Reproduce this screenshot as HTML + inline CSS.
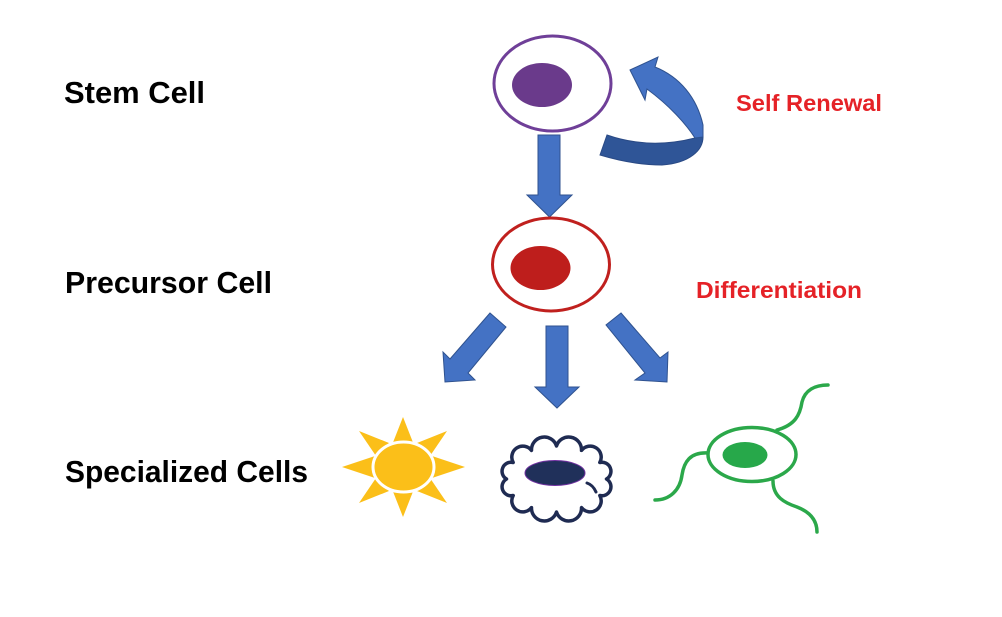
<!DOCTYPE html>
<html>
<head>
<meta charset="utf-8">
<style>
  html, body { margin:0; padding:0; background:#ffffff; }
  svg { display:block; }
  .lbl { font-family:"Liberation Sans", Arial, sans-serif; font-weight:bold; }
</style>
</head>
<body>
<svg width="1002" height="617" viewBox="0 0 1002 617" xmlns="http://www.w3.org/2000/svg">
  <rect x="0" y="0" width="1002" height="617" fill="#ffffff"/>

  <!-- Left labels -->
  <text class="lbl" x="64" y="103" font-size="31" fill="#000" textLength="141" lengthAdjust="spacingAndGlyphs">Stem Cell</text>
  <text class="lbl" x="65" y="293" font-size="31" fill="#000" textLength="207" lengthAdjust="spacingAndGlyphs">Precursor Cell</text>
  <text class="lbl" x="65" y="482" font-size="31" fill="#000" textLength="243" lengthAdjust="spacingAndGlyphs">Specialized Cells</text>

  <!-- Red labels -->
  <text class="lbl" x="736" y="111" font-size="23" fill="#E52227" textLength="146" lengthAdjust="spacingAndGlyphs">Self Renewal</text>
  <text class="lbl" x="696" y="298" font-size="23" fill="#E52227" textLength="166" lengthAdjust="spacingAndGlyphs">Differentiation</text>

  <!-- Stem cell -->
  <ellipse cx="552.5" cy="83.5" rx="58.5" ry="47.5" fill="#fff" stroke="#6F3F98" stroke-width="3"/>
  <ellipse cx="542" cy="85" rx="30" ry="22" fill="#6A3A8B"/>

  <!-- Self renewal curved arrow -->
  <path d="M607,135 C630,143 660,147 695,138 L703,137 C703,150 690,163 662,165 C640,165 620,161 600,155 Z" fill="#2F5597" stroke="#2A4A85" stroke-width="1"/>
  <path d="M630,70 L658,57 L655,67 C680,77 697,98 703,125 L703,137 L695,138 C686,124 670,106 647,89 L645,100 Z" fill="#4472C4" stroke="#2F528F" stroke-width="1"/>

  <!-- Down arrow stem -> precursor -->
  <path d="M538,135 L560,135 L560,195 L572,195 L549.5,217 L527,195 L538,195 Z" fill="#4472C4" stroke="#2F528F" stroke-width="1"/>

  <!-- Precursor cell -->
  <ellipse cx="551" cy="264.5" rx="58.5" ry="46.5" fill="#fff" stroke="#C0201E" stroke-width="3"/>
  <ellipse cx="540.5" cy="268" rx="30" ry="22" fill="#BE1E1C"/>

  <!-- Three arrows -->
  <path d="M490,313 L506,327 L468,373 L475,380 L445,382 L443,352 L450,359 Z" fill="#4472C4" stroke="#2F528F" stroke-width="1"/>
  <path d="M546,326 L568,326 L568,387 L579,387 L557,408 L535,387 L546,387 Z" fill="#4472C4" stroke="#2F528F" stroke-width="1"/>
  <path d="M621,313 L606,325 L645,373 L635,380 L667,382 L668,352 L660,358 Z" fill="#4472C4" stroke="#2F528F" stroke-width="1"/>

  <!-- Sun -->
  <g fill="#FBBF19">
    <polygon points="403,417 392,445 414,445"/>
    <polygon points="342,467 375,456 375,478"/>
    <polygon points="465,467 432,456 432,478"/>
    <polygon points="403,517 392,489 414,489"/>
    <polygon points="359,431 376,456 389,443"/>
    <polygon points="447,431 430,456 417,443"/>
    <polygon points="359,503 376,478 389,491"/>
    <polygon points="447,503 430,478 417,491"/>
  </g>
  <ellipse cx="403.5" cy="467" rx="30.5" ry="25" fill="#FBBF19" stroke="#ffffff" stroke-width="3"/>

  <!-- Cloud cell -->
  <path d="M606.5,479 A9,9 0 0 1 599.8,495.5 A11,11 0 0 1 581.5,507.6 A12.8,12.8 0 0 1 556.5,512 A12.8,12.8 0 0 1 531.5,507.6 A11,11 0 0 1 513.2,495.5 A9,9 0 0 1 506.5,479 A9,9 0 0 1 513.2,462.5 A11,11 0 0 1 531.5,450.4 A12.8,12.8 0 0 1 556.5,446 A12.8,12.8 0 0 1 581.5,450.4 A11,11 0 0 1 599.8,462.5 A9,9 0 0 1 606.5,479 Z" fill="#ffffff" stroke="#1F2B52" stroke-width="3.5" stroke-linejoin="round"/>
  <path d="M587,483 Q593,485 596,492" fill="none" stroke="#1F2B52" stroke-width="3" stroke-linecap="round"/>
  <ellipse cx="555" cy="473" rx="30" ry="12.5" fill="#20305A" stroke="#7030A0" stroke-width="1"/>

  <!-- Green neuron-like cell -->
  <g fill="none" stroke="#2BA84A" stroke-width="3.5" stroke-linecap="round">
    <path d="M777,430 C795,425 800,415 802,402 C805,390 815,385 828,385"/>
    <path d="M708,453 C690,452 684,462 682,475 C680,490 670,500 655,500"/>
    <path d="M773,481 C773,497 785,503 797,507 C810,512 817,520 817,532"/>
  </g>
  <ellipse cx="752" cy="454.5" rx="44" ry="27" fill="#ffffff" stroke="#2BA84A" stroke-width="3.5"/>
  <ellipse cx="745" cy="455" rx="22.5" ry="13" fill="#27A84A"/>
</svg>
</body>
</html>
